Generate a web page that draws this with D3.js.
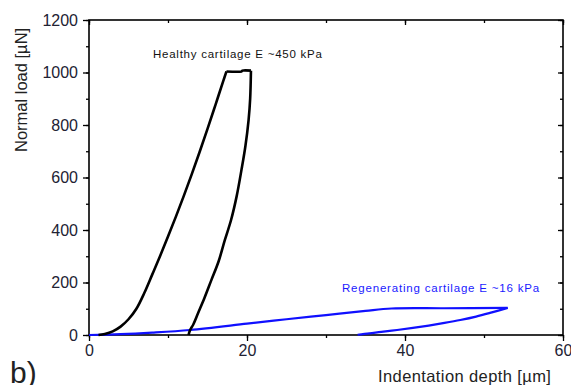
<!DOCTYPE html>
<html>
<head>
<meta charset="utf-8">
<script src="https://cdn.jsdelivr.net/npm/d3@7"></script>
<style>
  body { margin: 0; background: #fff; }
  svg { font-family: "Liberation Sans", Arial, sans-serif; }
</style>
</head>
<body>
<div id="chart"></div>
<script>
// data (depth um, load uN)
const healthyLoad = [[1.2,0],[2,4],[3,14],[4,32],[5,60],[6,100],[7,160],[8,230],[9,301],[10,375],[11,451],[12,530],[13,612],[14,697],[15,785],[16,876],[17,968],[17.4,1004]];
const healthyHold = [[17.4,1004],[19.3,1004],[19.4,1007],[20.5,1007]];
const healthyUnload = [[20.5,1007],[20.4,900],[20.2,819],[19.8,720],[19.3,629],[18.7,530],[18.0,440],[17.2,362],[16.4,280],[15.5,210],[14.6,140],[13.8,83],[13.2,40],[12.8,19],[12.6,0]];
const regenLoad = [[0,0],[4,3],[8,9],[12.8,19],[20,43],[25,60],[30,76],[35,92],[38.3,101],[45,102],[53,103]];
const regenUnload = [[53,103],[51,86],[49,70],[47,57],[45,46],[43,36],[41,27],[39,19],[37,12],[35.5,6],[34,1]];
const xTicks = [0, 20, 40, 60];
const yTicks = [0, 200, 400, 600, 800, 1000, 1200];
const labels = {
  healthy: 'Healthy cartilage E ~450 kPa',
  regen: 'Regenerating cartilage E ~16 kPa',
  xTitle: 'Indentation depth [\u00b5m]',
  yTitle: 'Normal load [\u00b5N]',
  panel: 'b)'
};

const width = 571, height = 385;
const margin = { top: 20, right: 8, bottom: 50, left: 89 };
const svg = d3.select('#chart').append('svg')
  .attr('width', width).attr('height', height);

const xScale = d3.scaleLinear().domain([0, 60]).range([margin.left, width - margin.right]);
const yScale = d3.scaleLinear().domain([0, 1200]).range([height - margin.bottom, margin.top]);
const tickCol = '#222233';

// axes ----------------------------------------------------------------
const xMinor = d3.range(0, 61, 10);
const yMinor = d3.range(0, 1201, 100);
// bottom
svg.append('g').attr('transform', 'translate(0,' + yScale(0) + ')')
  .call(d3.axisBottom(xScale).tickValues(xMinor).tickSize(3).tickFormat(''));
svg.append('g').attr('transform', 'translate(0,' + yScale(0) + ')')
  .call(d3.axisBottom(xScale).tickValues(xTicks).tickSize(6).tickPadding(4).tickFormat(d3.format('d')))
  .selectAll('text').attr('font-size', '16px').attr('fill', tickCol);
// top (inward)
svg.append('g').attr('transform', 'translate(0,' + yScale(1200) + ')')
  .call(d3.axisBottom(xScale).tickValues(xMinor).tickSize(3).tickFormat(''));
svg.append('g').attr('transform', 'translate(0,' + yScale(1200) + ')')
  .call(d3.axisBottom(xScale).tickValues(xTicks).tickSize(5).tickFormat(''));
// left
svg.append('g').attr('transform', 'translate(' + xScale(0) + ',0)')
  .call(d3.axisLeft(yScale).tickValues(yMinor).tickSize(3).tickFormat(''));
svg.append('g').attr('transform', 'translate(' + xScale(0) + ',0)')
  .call(d3.axisLeft(yScale).tickValues(yTicks).tickSize(6).tickPadding(5).tickFormat(d3.format('d')))
  .selectAll('text').attr('font-size', '16px').attr('fill', tickCol);
// right (inward)
svg.append('g').attr('transform', 'translate(' + xScale(60) + ',0)')
  .call(d3.axisLeft(yScale).tickValues(yMinor).tickSize(3).tickFormat(''));
svg.append('g').attr('transform', 'translate(' + xScale(60) + ',0)')
  .call(d3.axisLeft(yScale).tickValues(yTicks).tickSize(5).tickFormat(''));
svg.selectAll('.domain').remove();
svg.selectAll('.tick line').attr('stroke', '#000').attr('stroke-width', 1.3);

// frame
svg.append('rect')
  .attr('x', xScale(0)).attr('y', yScale(1200))
  .attr('width', xScale(60) - xScale(0)).attr('height', yScale(0) - yScale(1200))
  .attr('fill', 'none').attr('stroke', '#000').attr('stroke-width', 1.6);

// curves ---------------------------------------------------------------
const line = d3.line()
  .x(d => xScale(d[0]))
  .y(d => yScale(d[1]))
  .curve(d3.curveCatmullRom);
const plot = svg.append('g');
[regenLoad, regenUnload].forEach(seg => {
  plot.append('path').datum(seg)
    .attr('fill', 'none').attr('stroke', '#1010ff').attr('stroke-width', 2.2)
    .attr('stroke-linejoin', 'round').attr('d', line);
});
[healthyLoad, healthyHold, healthyUnload].forEach(seg => {
  plot.append('path').datum(seg)
    .attr('fill', 'none').attr('stroke', '#000').attr('stroke-width', 2.6)
    .attr('stroke-linejoin', 'round').attr('d', line);
});

// texts ----------------------------------------------------------------
svg.append('text').attr('x', 153).attr('y', 57.5)
  .attr('font-size', '11.5px').attr('letter-spacing', '0.75px').attr('fill', '#111').text(labels.healthy);
svg.append('text').attr('x', 342).attr('y', 291.5)
  .attr('font-size', '11.5px').attr('letter-spacing', '0.8px').attr('fill', '#1a1aff').text(labels.regen);
svg.append('text').attr('x', 378).attr('y', 382)
  .attr('font-size', '16.5px').attr('letter-spacing', '0.4px').attr('fill', '#222').text(labels.xTitle);
svg.append('text')
  .attr('transform', 'translate(27,152) rotate(-90)')
  .attr('font-size', '16.5px').attr('fill', '#222').text(labels.yTitle);
svg.append('text').attr('x', 10).attr('y', 383)
  .attr('font-size', '30px').attr('fill', '#222').text(labels.panel);
</script>
</body>
</html>
